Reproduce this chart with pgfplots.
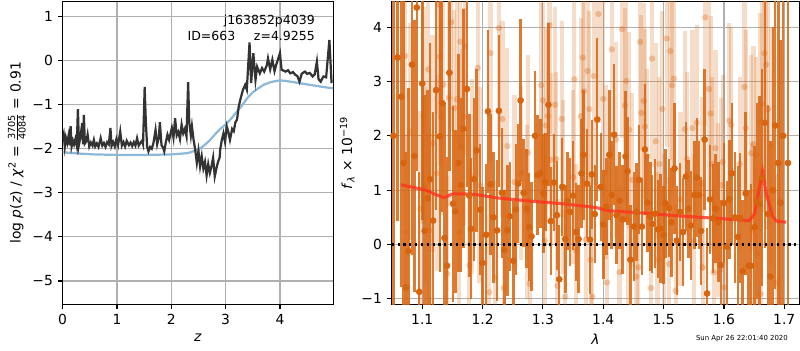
\documentclass[border=0pt]{standalone}
\usepackage{fontspec}
\setmainfont{DejaVu Sans}
\usepackage{amsmath}
\usepackage{pgfplots}
\usepackage{pgfplotstable}
\pgfplotsset{compat=1.18}

\definecolor{pzline}{RGB}{51,51,51}
\definecolor{pzblue}{RGB}{140,184,218}
\definecolor{dorange}{RGB}{215,100,15}
\definecolor{gridgray}{RGB}{176,176,176}
\definecolor{modelred}{RGB}{255,50,30}

\pgfplotstableread{
z lp
0.00 -1.80
0.02 -1.68
0.04 -1.95
0.06 -1.75
0.085 -1.87
0.11 -1.70
0.13 -1.92
0.147 -1.49
0.165 -1.95
0.19 -1.82
0.21 -1.90
0.235 -1.78
0.26 -1.93
0.281 -1.10
0.30 -1.91
0.33 -1.72
0.36 -1.42
0.375 -1.90
0.39 -1.23
0.41 -1.88
0.44 -1.82
0.46 -1.68
0.49 -1.95
0.52 -1.86
0.55 -1.93
0.575 -1.80
0.60 -1.95
0.63 -1.88
0.66 -1.96
0.70 -1.76
0.73 -1.93
0.76 -1.87
0.79 -1.96
0.82 -1.85
0.85 -1.90
0.88 -1.53
0.90 -1.94
0.93 -1.85
0.96 -1.95
0.99 -1.78
1.02 -1.92
1.06 -1.61
1.09 -1.93
1.12 -1.85
1.15 -1.95
1.18 -1.82
1.22 -1.92
1.25 -1.86
1.28 -1.94
1.31 -1.85
1.34 -1.93
1.37 -1.76
1.40 -1.93
1.43 -1.87
1.46 -1.82
1.48 -1.90
1.51 -0.60
1.53 -1.35
1.555 -1.95
1.58 -2.06
1.61 -1.96
1.64 -2.00
1.67 -1.88
1.71 -1.57
1.74 -1.90
1.77 -1.75
1.79 -1.40
1.82 -1.92
1.85 -1.98
1.87 -2.06
1.90 -1.85
1.93 -1.68
1.96 -1.80
2.01 -1.53
2.04 -1.75
2.07 -1.31
2.10 -1.70
2.13 -1.62
2.16 -1.78
2.19 -1.45
2.22 -1.65
2.25 -1.55
2.28 -1.72
2.31 -0.49
2.33 -1.40
2.36 -1.70
2.38 -1.49
2.41 -1.80
2.44 -2.02
2.47 -2.32
2.50 -2.05
2.53 -2.40
2.56 -2.17
2.59 -2.45
2.62 -2.30
2.65 -2.61
2.68 -2.35
2.71 -2.55
2.74 -2.40
2.77 -2.20
2.80 -2.63
2.83 -2.45
2.86 -2.30
2.89 -2.20
2.90 -2.02
2.93 -1.80
2.96 -1.65
2.99 -1.85
3.02 -1.49
3.05 -1.62
3.08 -1.80
3.12 -1.55
3.15 -1.60
3.18 -1.40
3.21 -1.34
3.24 -1.05
3.27 -0.89
3.30 -0.75
3.32 -0.66
3.36 -0.55
3.39 -0.66
3.44 0.41
3.47 -0.51
3.51 0.17
3.55 -0.44
3.58 -0.14
3.63 -0.29
3.67 -0.17
3.71 -0.25
3.76 -0.10
3.78 0.05
3.82 -0.20
3.86 0.02
3.90 -0.24
3.93 -0.10
3.98 0.09
4.00 0.17
4.03 -0.21
4.07 -0.23
4.10 -0.25
4.15 -0.22
4.19 -0.29
4.24 -0.26
4.28 -0.32
4.32 -0.35
4.36 -0.48
4.40 -0.30
4.46 -0.25
4.50 -0.30
4.55 -0.28
4.60 -0.36
4.64 -0.31
4.68 -0.02
4.71 -0.42
4.75 -0.48
4.80 -0.36
4.85 -0.38
4.91 0.47
4.95 -0.51
}\pzdata

\pgfplotstableread{
z lp
0.0 -2.08
0.3 -2.11
0.6 -2.13
1.0 -2.14
1.5 -2.14
2.0 -2.13
2.3 -2.10
2.5 -2.02
2.6 -1.93
2.7 -1.82
2.8 -1.68
2.9 -1.55
3.0 -1.45
3.1 -1.32
3.2 -1.17
3.3 -1.02
3.4 -0.85
3.5 -0.72
3.6 -0.63
3.7 -0.55
3.8 -0.50
3.9 -0.47
4.0 -0.45
4.1 -0.46
4.2 -0.48
4.3 -0.50
4.4 -0.52
4.6 -0.56
4.8 -0.60
4.98 -0.63
}\pzsmooth

\pgfplotstableread{
l f e
1.052 2.00 3.5
1.059 3.44 3.0
1.065 2.72 3.5
1.069 1.50 3.0
1.073 -0.79 2.5
1.077 -0.12 3.0
1.083 3.31 3.5
1.087 1.63 2.5
1.091 4.36 3.0
1.095 -0.87 2.2
1.100 2.96 2.5
1.104 0.25 2.5
1.109 0.85 2.0
1.113 1.20 2.5
1.118 0.44 2.0
1.123 2.84 2.2
1.129 1.99 2.5
1.133 2.60 2.0
1.137 0.12 2.5
1.141 -0.39 2.0
1.145 3.16 1.8
1.151 0.75 1.8
1.155 0.61 1.5
1.160 1.50 2.0
1.164 1.09 1.6
1.168 2.13 2.2
1.174 2.86 1.8
1.178 0.90 1.5
1.181 0.29 1.3
1.186 1.20 1.5
1.190 1.73 1.5
1.196 0.64 1.2
1.200 -0.34 1.4
1.206 0.18 1.3
1.209 2.45 1.5
1.213 1.11 1.3
1.218 0.50 1.2
1.224 0.26 1.3
1.227 2.46 1.4
1.232 0.95 1.2
1.236 -0.10 1.1
1.241 0.26 1.2
1.245 0.52 1.0
1.251 -0.30 1.1
1.255 0.64 1.2
1.259 1.12 1.1
1.263 2.65 1.5
1.268 0.95 1.0
1.273 0.66 1.1
1.277 0.32 1.0
1.281 0.15 1.0
1.287 2.00 1.2
1.291 1.28 1.1
1.296 1.31 1.0
1.301 0.94 1.1
1.304 1.15 0.9
1.309 2.57 1.5
1.313 0.43 1.0
1.318 1.14 0.9
1.323 0.54 1.0
1.327 -0.64 1.0
1.332 1.06 0.9
1.337 0.10 1.0
1.341 0.80 0.9
1.345 0.60 1.0
1.350 0.90 1.0
1.355 0.23 0.9
1.359 0.10 1.0
1.364 1.31 1.0
1.367 1.65 1.2
1.373 1.12 1.0
1.378 0.09 1.0
1.381 1.29 1.0
1.386 0.56 0.9
1.390 2.30 1.5
1.396 1.06 1.0
1.400 0.37 1.0
1.405 0.70 0.9
1.410 1.65 1.2
1.414 0.91 1.0
1.418 2.02 1.3
1.422 0.54 0.9
1.427 0.81 0.9
1.432 0.46 1.0
1.437 1.62 1.2
1.440 1.35 1.0
1.445 -0.28 1.0
1.451 0.33 1.0
1.455 0.60 0.9
1.459 1.19 1.0
1.464 0.33 0.9
1.469 1.75 1.2
1.473 0.77 0.9
1.478 0.51 1.0
1.481 0.38 0.9
1.486 0.57 1.0
1.491 0.28 0.9
1.495 0.29 1.0
1.500 0.17 0.9
1.503 0.76 1.0
1.509 0.67 0.9
1.513 0.41 1.0
1.518 1.40 1.2
1.522 0.07 1.0
1.527 0.60 0.9
1.532 0.23 1.0
1.537 1.25 1.0
1.541 0.66 0.9
1.545 0.35 1.0
1.551 0.91 1.0
1.555 1.23 1.1
1.559 0.91 1.0
1.562 0.25 1.0
1.568 1.93 1.3
1.572 -0.90 1.2
1.577 0.83 1.0
1.582 0.48 1.0
1.586 0.66 1.0
1.591 0.41 1.1
1.595 -0.38 1.2
1.600 0.76 1.1
1.605 -0.04 1.2
1.609 0.83 1.1
1.613 1.31 1.3
1.618 0.50 1.2
1.623 0.14 1.3
1.627 0.49 1.2
1.631 -0.49 1.3
1.636 0.94 1.5
1.641 -0.39 1.4
1.645 -0.39 1.5
1.651 0.32 1.5
1.655 0.80 1.8
1.659 0.74 2.0
1.663 1.23 2.0
1.668 2.24 2.3
1.673 0.56 2.0
1.677 -0.59 2.5
1.681 1.00 3.0
1.685 2.19 3.0
1.690 1.50 3.5
1.694 0.77 3.0
1.698 2.00 4.0
1.706 1.50 5.0
}\darkdata

\pgfplotstableread{
l f e
1.072 3.47 2.0
1.074 0.23 1.8
1.080 2.08 2.0
1.097 0.66 1.8
1.102 2.37 2.0
1.105 1.09 1.8
1.110 3.22 2.0
1.112 0.26 1.8
1.117 1.86 2.0
1.124 1.31 1.8
1.127 4.41 2.0
1.129 3.46 2.0
1.131 2.35 1.8
1.135 2.94 2.0
1.141 -0.54 1.8
1.144 2.70 2.0
1.148 4.09 2.0
1.153 2.51 1.8
1.157 2.67 2.0
1.161 0.22 1.8
1.163 3.73 2.0
1.166 1.80 1.8
1.169 2.35 2.0
1.171 3.65 2.0
1.178 -0.38 1.8
1.183 1.25 1.8
1.192 3.25 2.0
1.195 1.09 1.8
1.211 -0.88 1.8
1.213 3.52 2.0
1.221 -0.61 1.8
1.227 3.98 2.0
1.233 2.31 1.8
1.235 -0.80 1.8
1.241 1.81 1.8
1.253 1.15 1.6
1.264 1.31 1.6
1.273 0.59 1.6
1.275 1.69 1.8
1.278 -0.72 1.6
1.297 2.93 1.8
1.300 2.65 1.8
1.303 0.07 1.6
1.305 2.19 1.8
1.308 2.36 1.6
1.311 4.04 2.0
1.313 1.56 1.6
1.320 2.57 1.8
1.322 1.57 1.6
1.324 -0.76 1.6
1.331 2.31 1.8
1.333 1.05 1.6
1.337 -0.96 1.6
1.350 1.24 1.6
1.352 3.04 2.0
1.355 -0.11 1.6
1.363 2.36 1.8
1.366 3.44 2.0
1.368 2.82 1.8
1.371 0.09 1.6
1.374 3.19 2.0
1.377 2.49 1.8
1.379 -0.28 1.6
1.382 -0.96 1.6
1.384 3.10 2.0
1.392 4.24 2.0
1.400 2.68 1.8
1.404 1.33 1.6
1.406 -0.70 1.6
1.414 3.59 2.0
1.421 1.93 1.8
1.427 -0.51 1.6
1.431 3.96 2.0
1.436 2.56 1.8
1.438 3.01 2.0
1.441 0.44 1.6
1.443 2.11 1.8
1.448 1.19 1.6
1.455 -0.59 1.6
1.458 -0.42 1.6
1.461 3.73 2.0
1.463 2.42 1.8
1.467 2.64 1.8
1.469 2.17 1.8
1.473 1.62 1.6
1.479 -0.80 1.6
1.481 3.42 2.0
1.487 1.90 1.8
1.490 -0.27 1.6
1.493 1.48 1.6
1.498 2.49 1.8
1.501 0.06 1.6
1.505 3.79 2.0
1.509 -0.36 1.6
1.511 3.56 2.0
1.514 2.93 2.0
1.517 3.05 2.0
1.520 -0.85 1.6
1.528 0.83 1.6
1.535 2.12 1.8
1.539 1.57 1.6
1.548 2.14 1.8
1.551 0.07 1.6
1.555 2.24 1.8
1.563 1.12 1.6
1.565 -0.42 1.6
1.569 4.18 2.0
1.575 2.86 2.0
1.578 2.41 1.8
1.580 1.48 1.6
1.583 -0.51 1.6
1.586 1.77 1.8
1.590 0.64 1.6
1.595 1.09 1.6
1.598 1.52 1.6
1.601 -0.79 1.6
1.609 2.28 1.8
1.612 2.20 1.8
1.626 1.48 1.6
1.634 2.90 2.0
1.636 2.14 1.8
1.645 1.68 1.8
1.647 0.27 1.6
1.649 1.85 1.8
1.653 1.65 1.8
1.655 -0.17 1.6
1.660 2.25 2.0
1.661 -0.91 1.8
1.663 2.59 2.0
1.667 3.52 2.2
1.670 3.31 2.2
1.673 2.49 2.2
1.678 1.81 2.2
1.688 -0.70 2.0
}\lightdata

\pgfplotstableread{
l f
1.065 1.10
1.085 1.05
1.106 1.00
1.120 0.93
1.136 0.86
1.150 0.93
1.170 0.93
1.189 0.92
1.222 0.86
1.277 0.80
1.333 0.75
1.388 0.68
1.410 0.62
1.465 0.58
1.521 0.53
1.576 0.49
1.642 0.44
1.651 0.57
1.658 1.00
1.664 1.34
1.670 0.94
1.681 0.51
1.687 0.43
1.703 0.41
}\modeldata

\begin{document}
\begin{tikzpicture}
\useasboundingbox (0,0) rectangle (576pt,252pt);
\pgfplotsset{
  mpl/.style={
    scale only axis,
    anchor=south west,
    axis line style={line width=0.8pt},
    tick align=outside,
    tick pos=left,
    major tick length=3.5pt,
    every tick/.style={black, line width=0.8pt},
    grid=major,
    grid style={gridgray, line width=0.8pt},
    tick label style={font=\fontsize{10}{12}\selectfont},
    label style={font=\fontsize{10}{12}\selectfont},
  }
}
\begin{axis}[mpl,
  at={(45.1pt,32.9pt)}, width=194.8pt, height=218.0pt,
  xmin=0, xmax=4.98, ymin=-5.53, ymax=1.34,
  xtick={0,1,2,3,4}, xticklabels={0,1,2,3,4},
  ytick={-5,-4,-3,-2,-1,0,1},
  yticklabels={−5,−4,−3,−2,−1,0,1},
  xlabel={\textit{z}},
  ylabel={log \textit{p}(\textit{z}) / \textit{χ}\textsuperscript{2} = $\frac{\text{3705}}{\text{4084}}$ = 0.91},
  ylabel style={yshift=-2pt},
]
\addplot[pzblue, line width=1.6pt] table[x=z, y=lp] {\pzsmooth};
\addplot[pzline, line width=1.6pt] table[x=z, y=lp] {\pzdata};
\node[anchor=east, font=\fontsize{9}{11}\selectfont] at (rel axis cs:0.950,0.937) {j163852p4039};
\node[anchor=east, font=\fontsize{9}{11}\selectfont] at (rel axis cs:0.950,0.887) {ID=663\hspace{1.5em}z=4.9255};
\end{axis}

\begin{axis}[mpl,
  at={(282.0pt,32.9pt)}, width=293.5pt, height=218.0pt,
  xmin=1.0493, xmax=1.7249, ymin=-1.10, ymax=4.47,
  xtick={1.1,1.2,1.3,1.4,1.5,1.6,1.7},
  xticklabels={1.1,1.2,1.3,1.4,1.5,1.6,1.7},
  ytick={-1,0,1,2,3,4},
  yticklabels={−1,0,1,2,3,4},
  xlabel={\textit{λ}},
  ylabel={\textit{f}\textsubscript{\textit{λ}} × 10\textsuperscript{−19}},
  ylabel style={yshift=-2pt},
]
\addplot[only marks, mark=*, mark size=2.3pt, dorange,
  mark options={draw opacity=0, fill=dorange, fill opacity=0.32},
  error bars/.cd, y dir=both, y explicit, error mark=none,
  error bar style={line width=3pt, dorange, opacity=0.22}]
  table[x=l, y=f, y error=e] {\lightdata};
\addplot[only marks, mark=*, mark size=2.2pt, dorange,
  mark options={draw=dorange, fill=dorange},
  error bars/.cd, y dir=both, y explicit, error mark=none,
  error bar style={line width=1.8pt, dorange, opacity=0.85}]
  table[x=l, y=f, y error=e] {\darkdata};
\addplot[modelred, line width=2.2pt, opacity=0.8] table[x=l, y=f] {\modeldata};
\addplot[black, line width=1.6pt, dash pattern=on 1.6pt off 2.6pt] coordinates {(1.0493,0) (1.7249,0)};
\end{axis}

\node[font=\fontsize{5}{6}\selectfont] at (534.2pt,7.9pt) {Sun Apr 26 22:01:40 2020};
\end{tikzpicture}
\end{document}
